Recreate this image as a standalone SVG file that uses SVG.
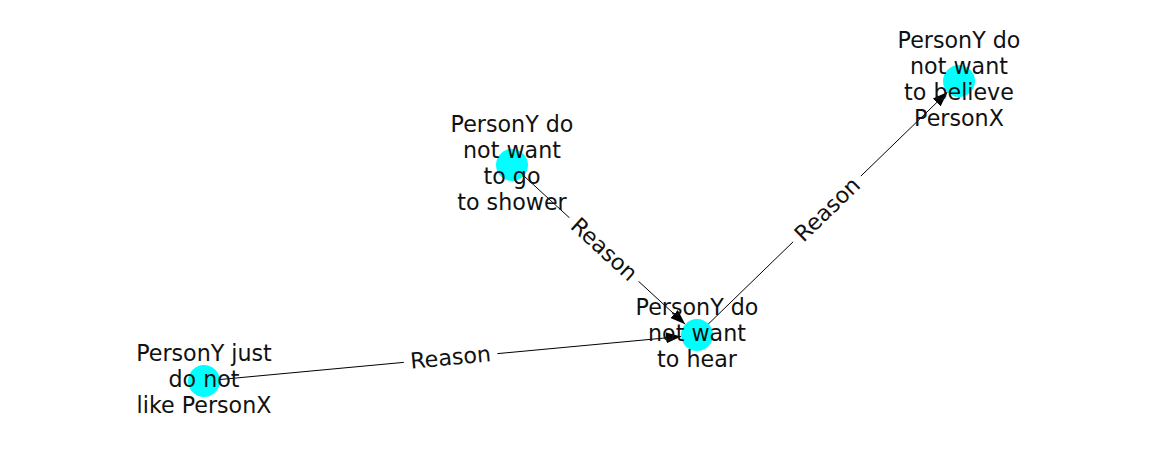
<svg xmlns="http://www.w3.org/2000/svg" width="1162" height="462" viewBox="0 0 1162 462">
  <style>
    text { font-family: "DejaVu Sans", sans-serif; font-size: 22.2px; fill: #111; text-anchor: middle; }
    .edge { stroke: #000; stroke-width: 1; fill: none; }
    .node { fill: #00ffff; }
    .lblbg { fill: #fff; stroke: none; }
  </style>
  <defs>
    <marker id="arrow" markerUnits="userSpaceOnUse" markerWidth="16" markerHeight="12" refX="15" refY="5.5" orient="auto">
      <path d="M0,0 L15,5.5 L0,11 Z" fill="#000"/>
    </marker>
  </defs>
  <rect width="1162" height="462" fill="#fff"/>
  <g id="connectors">
    <line class="edge" x1="204" y1="381" x2="681.1" y2="336.5" marker-end="url(#arrow)"/>
    <line class="edge" x1="512" y1="165" x2="685.2" y2="324.2" marker-end="url(#arrow)"/>
    <line class="edge" x1="697" y1="335" x2="947.5" y2="92.1" marker-end="url(#arrow)"/>
    <g transform="translate(450.5,357) rotate(-5.33)">
      <rect class="lblbg" x="-47" y="-14" width="94" height="28" rx="4"/>
      <text x="0" y="8">Reason</text>
    </g>
    <g transform="translate(604.5,249) rotate(42.58)">
      <rect class="lblbg" x="-47" y="-14" width="94" height="28" rx="4"/>
      <text x="0" y="8">Reason</text>
    </g>
    <g transform="translate(827,209) rotate(-44.11)">
      <rect class="lblbg" x="-47" y="-14" width="94" height="28" rx="4"/>
      <text x="0" y="8">Reason</text>
    </g>
  </g>
  <g id="node-shower">
    <circle class="node" cx="512" cy="165" r="16"/>
    <text x="512" y="132">PersonY do</text>
    <text x="512" y="158">not want</text>
    <text x="512" y="184">to go</text>
    <text x="512" y="210">to shower</text>
  </g>
  <g id="node-hear">
    <circle class="node" cx="697" cy="335" r="16"/>
    <text x="697" y="315">PersonY do</text>
    <text x="697" y="341">not want</text>
    <text x="697" y="367">to hear</text>
  </g>
  <g id="node-believe">
    <circle class="node" cx="959" cy="81" r="16"/>
    <text x="959" y="48">PersonY do</text>
    <text x="959" y="74">not want</text>
    <text x="959" y="100">to believe</text>
    <text x="959" y="126">PersonX</text>
  </g>
  <g id="node-like">
    <circle class="node" cx="204" cy="381" r="16"/>
    <text x="204" y="361">PersonY just</text>
    <text x="204" y="387">do not</text>
    <text x="204" y="413">like PersonX</text>
  </g>
</svg>
